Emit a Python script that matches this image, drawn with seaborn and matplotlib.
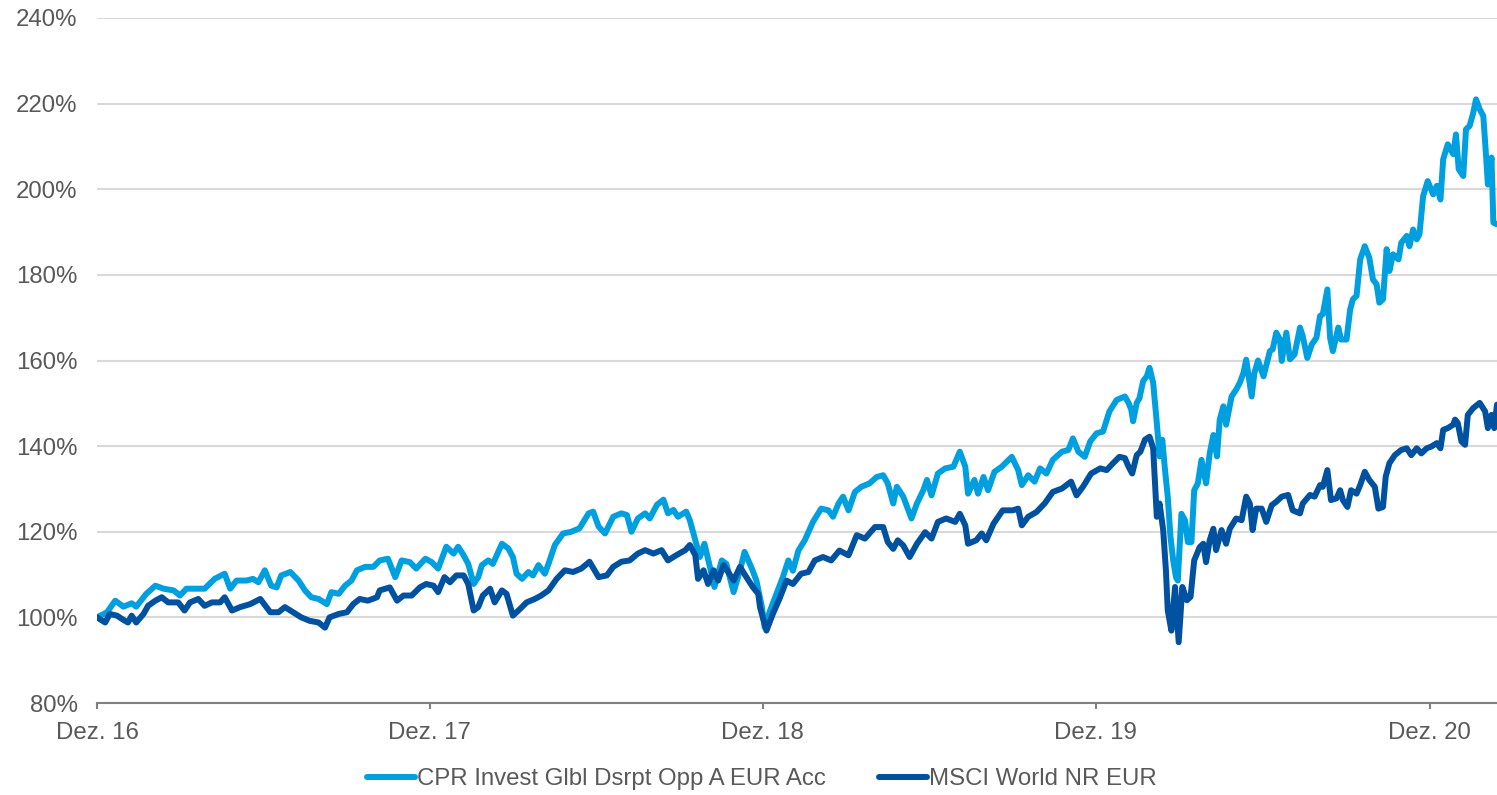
import numpy as np
import pandas as pd
import matplotlib
matplotlib.use("Agg")
import matplotlib.pyplot as plt
import seaborn as sns

# ---------------- data ----------------
series_names = ["CPR Invest Glbl Dsrpt Opp A EUR Acc", "MSCI World NR EUR"]
series_colors = ["#009FE0", "#00519F"]
start_date = "2016-12-30"
tick_dates = ["2016-12-30", "2017-12-30", "2018-12-30", "2019-12-30", "2020-12-30"]
tick_labels = ["Dez. 16", "Dez. 17", "Dez. 18", "Dez. 19", "Dez. 20"]
y_ticks = [80, 100, 120, 140, 160, 180, 200, 220, 240]

# days since start, indexed value (%)
cpr_days = [0, 11, 20, 29, 38, 43, 54, 64, 73, 84, 91, 98, 109, 118, 129, 140, 146, 153, 164, 171,
            177, 184, 191, 197, 202, 212, 221, 228, 235, 243, 252, 257, 265, 272, 279, 285, 294, 303, 310, 319,
            327, 334, 343, 350, 360, 367, 374,
            383, 391, 396, 402, 407, 413, 418, 422, 429, 434, 444, 451, 456, 460, 466, 473, 478, 484, 491, 495,
            502, 511, 520, 529, 539, 544, 550, 557, 566, 575, 581, 586, 593, 601, 606, 614, 621, 626, 632, 637,
            646, 650, 656, 661, 666, 672, 677, 685, 690, 698, 705, 710, 718, 723, 729,
            732, 738, 745, 752, 758, 763, 769, 776, 785, 794, 802, 807, 813, 818, 824, 831, 838, 847, 855, 862,
            867, 873, 877, 884, 893, 899, 906, 910, 915, 922, 930, 939, 946, 952, 955, 962, 966, 972, 977, 984,
            992, 1003, 1010, 1014, 1021, 1028, 1034, 1041, 1048, 1058, 1065, 1070, 1076, 1083, 1089, 1096, 1103,
            1110, 1118,
            1127, 1131, 1134, 1136, 1140, 1143, 1147, 1151, 1154, 1158, 1162, 1165, 1168, 1171, 1174, 1177, 1180,
            1183, 1185, 1189, 1193, 1196, 1200, 1203, 1207, 1211, 1216, 1220, 1224, 1228, 1231, 1235, 1238, 1244,
            1249, 1253, 1257, 1260, 1266, 1269, 1273, 1279,
            1286, 1289, 1293, 1297, 1299, 1304, 1308, 1313, 1319, 1322, 1327, 1332, 1337, 1341, 1344, 1349, 1352,
            1355, 1361, 1364, 1370, 1374, 1377, 1381, 1385, 1390, 1395, 1399, 1403, 1406, 1410, 1414, 1417, 1421,
            1427, 1430, 1436, 1439, 1443, 1447, 1450, 1454, 1459, 1465, 1469, 1473, 1476, 1481, 1487, 1490, 1493,
            1498, 1501, 1505, 1509, 1512, 1516, 1520, 1523, 1525, 1529, 1531, 1535]
cpr_values = [100.0, 101.2, 103.9, 102.5, 103.3, 102.5, 105.5, 107.4, 106.7, 106.3, 105.1, 106.7, 106.7, 106.7,
              109.0, 110.2, 106.7, 108.6, 108.6, 109.0, 108.2, 111.0, 107.4, 107.0, 109.8, 110.6, 108.6, 106.3,
              104.7, 104.3, 103.1, 105.9, 105.5, 107.4, 108.6, 111.0, 111.8, 111.8, 113.3, 113.7, 109.4, 113.3,
              112.9, 111.4, 113.7, 112.9, 111.4,
              116.5, 114.9, 116.5, 114.5, 112.5, 107.8, 109.4, 112.2, 113.3, 112.5, 117.2, 116.1, 114.1, 110.2,
              109.0, 110.6, 109.8, 112.2, 110.2, 112.5, 116.9, 119.6, 120.0, 120.8, 124.3, 124.7, 121.2, 119.6,
              123.5, 124.3, 123.9, 120.0, 123.1, 124.3, 123.1, 126.3, 127.5, 124.3, 125.1, 123.5, 124.7, 122.7,
              118.0, 114.1, 117.2, 111.8, 107.1, 113.3, 112.5, 105.9, 111.0, 115.3, 111.4, 108.6, 102.4,
              97.7, 101.6, 105.5, 109.4, 113.3, 110.9, 115.6, 118.0, 122.3, 125.4, 125.0, 123.5, 126.6, 128.2,
              125.0, 129.3, 130.5, 131.3, 132.8, 133.2, 131.3, 126.6, 130.5, 128.2, 123.1, 126.6, 129.7, 132.1,
              128.5, 133.6, 134.8, 135.2, 138.7, 135.2, 128.9, 132.1, 128.9, 132.8, 129.7, 134.0, 135.2, 137.5,
              134.4, 130.9, 133.2, 131.7, 134.8, 133.6, 136.8, 138.7, 139.1, 141.8, 138.7, 137.5, 141.1, 143.0,
              143.4, 148.1, 150.8,
              151.6, 150.1, 148.5, 145.8, 150.1, 151.2, 155.2, 156.3, 158.3, 154.8, 145.4, 137.6, 141.5, 134.4,
              128.2, 118.8, 113.3, 109.4, 108.6, 124.2, 122.6, 117.6, 117.6, 129.7, 131.3, 136.8, 131.3, 138.3,
              142.6, 137.6, 146.2, 149.3, 145.0, 151.6, 153.2, 154.8, 157.1, 160.2, 151.6, 157.1, 160.0, 156.3,
              162.2, 162.6, 166.5, 164.9, 159.9, 166.5, 160.3, 161.4, 167.7, 165.7, 160.6, 163.8, 165.3, 170.4,
              170.8, 176.6, 165.3, 162.2, 167.7, 164.9, 164.9, 171.9, 174.3, 175.1, 183.6, 186.7, 184.0, 178.9,
              177.8, 173.5, 174.3, 186.0, 180.9, 184.8, 183.6, 187.5, 189.1, 186.7, 190.6, 188.3, 189.5, 198.4,
              201.9, 198.8, 200.8, 197.6, 207.0, 210.5, 208.2, 212.8, 204.7, 203.1, 214.0, 214.8, 217.9, 221.0,
              218.7, 217.1, 207.8, 201.1, 207.4, 192.2, 191.8]

msci_days = [0, 9, 14, 22, 29, 34, 38, 43, 51, 56, 64, 71, 78, 89, 96, 102, 111, 118, 126, 135,
             140, 148, 157, 168, 179, 190, 199, 206, 215, 224, 233, 243, 250, 255, 265, 274, 281, 288, 297, 307,
             310, 321, 329, 336, 345, 354, 361, 369, 374,
             381, 387, 394, 402, 407, 413, 418, 423, 431, 436, 444, 449, 456, 464, 471, 480, 487, 495, 504, 513,
             522, 531, 540, 550, 559, 566, 575, 584, 593, 601, 610, 619, 626, 635, 645, 650, 656, 659, 665, 670,
             676, 681, 687, 692, 698, 705, 712, 719, 725,
             727, 734, 741, 749, 756, 763, 772, 780, 787, 796, 805, 814, 824, 833, 842, 853, 862, 867, 873, 878,
             884, 891, 899, 908, 915, 922, 931, 941, 946, 952, 955, 964, 970, 975, 983, 993, 1004, 1010, 1014, 1021,
             1030, 1039, 1048, 1058, 1068, 1074, 1081, 1090, 1100, 1107, 1114, 1121,
             1127, 1131, 1135, 1140, 1144, 1149, 1154, 1158, 1162, 1165, 1169, 1172, 1174, 1178, 1182, 1184, 1186,
             1190, 1195, 1199, 1203, 1209, 1213, 1216, 1220, 1224, 1227, 1233, 1238, 1242, 1249, 1255, 1260, 1264,
             1267, 1271, 1277, 1282, 1288, 1293, 1299, 1306, 1311, 1319, 1322, 1330, 1335, 1341, 1344, 1349, 1353,
             1359, 1363, 1366, 1371, 1375, 1381, 1385, 1390, 1395, 1401, 1405, 1410, 1413, 1417, 1423, 1430, 1436,
             1441, 1447, 1452, 1458, 1463, 1469, 1473, 1476, 1481, 1487, 1489, 1492, 1496, 1500, 1503, 1509, 1516,
             1522, 1525, 1529, 1532, 1535]
msci_values = [100.0, 98.8, 100.8, 100.4, 99.4, 98.8, 100.4, 98.8, 100.8, 102.7, 103.9, 104.7, 103.5, 103.5,
               101.6, 103.5, 104.3, 102.7, 103.5, 103.5, 104.7, 101.6, 102.4, 103.1, 104.3, 101.2, 101.2, 102.4,
               101.2, 100.0, 99.2, 98.8, 97.6, 100.0, 100.8, 101.2, 103.1, 104.3, 103.9, 104.7, 106.3, 107.0,
               103.9, 105.1, 105.1, 107.0, 107.8, 107.4, 105.9,
               109.4, 108.2, 109.8, 109.8, 107.8, 101.6, 102.4, 105.1, 106.7, 103.5, 106.3, 105.5, 100.4, 102.0,
               103.5, 104.3, 105.1, 106.3, 109.0, 111.0, 110.6, 111.4, 113.0, 109.4, 109.8, 111.8, 113.0, 113.3,
               114.9, 115.7, 114.9, 115.7, 113.3, 114.5, 115.7, 116.9, 114.5, 109.0, 111.0, 107.8, 111.0, 108.6,
               112.2, 110.6, 108.6, 111.8, 109.4, 107.1, 105.5,
               102.3, 96.9, 100.8, 104.7, 108.6, 107.8, 110.2, 110.6, 113.3, 114.1, 113.3, 115.6, 114.5, 119.2,
               118.4, 121.1, 121.1, 117.6, 116.0, 118.0, 116.8, 114.1, 117.2, 119.9, 118.4, 122.3, 123.1, 122.3,
               124.2, 121.5, 117.2, 118.0, 119.6, 118.0, 121.9, 125.0, 125.0, 125.4, 121.5, 123.5, 124.6, 126.6,
               129.3, 130.1, 131.7, 128.5, 130.5, 133.6, 134.8, 134.4, 136.0, 137.5,
               137.2, 135.2, 133.6, 137.9, 138.7, 141.5, 142.2, 139.5, 123.5, 126.6, 120.4, 111.0, 101.6, 96.9,
               107.1, 100.8, 94.2, 107.1, 104.0, 104.8, 113.3, 116.4, 117.2, 112.9, 118.0, 120.7, 115.7, 120.4,
               117.2, 120.7, 123.1, 122.7, 128.2, 126.6, 120.4, 125.4, 125.4, 122.3, 126.2, 127.0, 128.2, 128.6,
               125.0, 124.3, 126.6, 128.6, 128.2, 130.9, 130.5, 134.4, 127.4, 127.8, 129.7, 127.4, 125.8, 129.7,
               128.9, 130.9, 134.0, 132.1, 130.5, 125.4, 125.8, 132.9, 136.0, 137.9, 139.1, 139.5, 137.9, 139.5,
               138.3, 139.5, 139.9, 140.7, 139.5, 143.8, 144.2, 145.0, 146.2, 145.4, 141.1, 140.3, 147.3, 148.9,
               150.1, 148.1, 144.2, 147.3, 144.2, 149.7]

# ---------------- style ----------------
sns.set_theme(style="white")
plt.rcParams["font.family"] = ["Liberation Sans", "DejaVu Sans"]
text_color = "#595959"
font_size = 17.3

base = pd.Timestamp(start_date)
df = pd.concat([
    pd.DataFrame({"date": base + pd.to_timedelta(cpr_days, unit="D"),
                  "value": cpr_values, "series": series_names[0]}),
    pd.DataFrame({"date": base + pd.to_timedelta(msci_days, unit="D"),
                  "value": msci_values, "series": series_names[1]}),
], ignore_index=True)

W, H = 1497, 795
fig = plt.figure(figsize=(W / 100, H / 100), dpi=100)
ax = fig.add_axes([97 / W, 92 / H, 1400 / W, 685 / H])

sns.lineplot(data=df, x="date", y="value", hue="series", hue_order=series_names,
             palette=series_colors, linewidth=4.3, estimator=None, sort=False,
             ax=ax, legend=False, solid_joinstyle="round", solid_capstyle="round")

ax.set_xlim(df["date"].min(), df["date"].max())
ax.set_ylim(y_ticks[0], y_ticks[-1])
ax.set_yticks(y_ticks)
ax.set_yticklabels([f"{v}%" for v in y_ticks])
ax.set_xticks(pd.to_datetime(tick_dates))
ax.set_xticklabels(tick_labels)
ax.set_xlabel("")
ax.set_ylabel("")

ax.yaxis.grid(True, color="#d9d9d9", linewidth=1.5)
ax.xaxis.grid(False)
ax.set_axisbelow(True)
for s in ["left", "top", "right"]:
    ax.spines[s].set_visible(False)
ax.spines["bottom"].set_color("#808080")
ax.spines["bottom"].set_linewidth(1.5)
ax.spines["bottom"].set_zorder(1)

ax.tick_params(axis="y", length=0, pad=14, labelsize=font_size, labelcolor=text_color)
ax.tick_params(axis="x", bottom=True, length=4.3, width=1.5, color="#808080",
               direction="out", pad=9.5, labelsize=font_size, labelcolor=text_color)

handles = ax.get_lines()[:2]
leg = fig.legend(handles, series_names, loc="center", bbox_to_anchor=(762 / W, 16 / H),
                 ncol=2, frameon=False, fontsize=font_size, handlelength=2.0,
                 handletextpad=0.1, columnspacing=2.2, labelcolor=text_color)

fig.savefig("out.png", dpi=100)
